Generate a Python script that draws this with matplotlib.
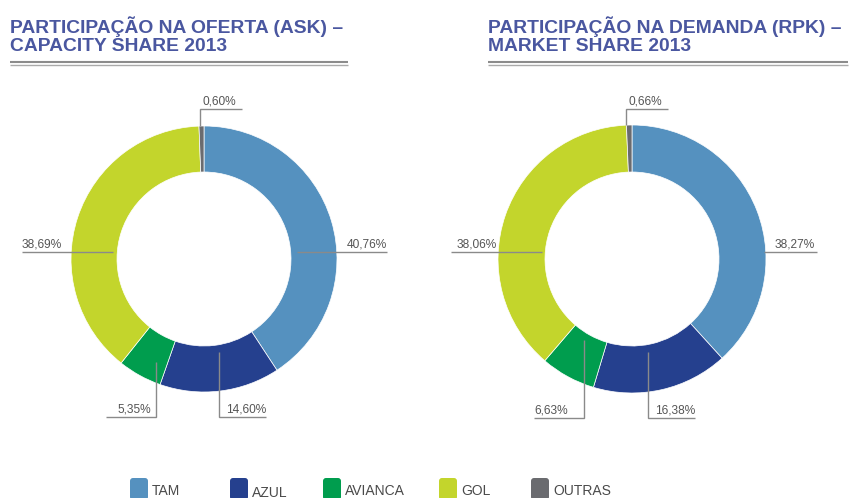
import matplotlib
matplotlib.use("Agg")
import matplotlib.pyplot as plt
from matplotlib.patches import FancyBboxPatch

# ---------------- data ----------------
categories = ["TAM", "AZUL", "AVIANCA", "GOL", "OUTRAS"]
ask_share = [40.76, 14.60, 5.35, 38.69, 0.60]
rpk_share = [38.27, 16.38, 6.63, 38.06, 0.66]
titles = ["PARTICIPAÇÃO NA OFERTA (ASK) –\nCAPACITY SHARE 2013",
          "PARTICIPAÇÃO NA DEMANDA (RPK) –\nMARKET SHARE 2013"]
colors = ["#5591bf", "#25408e", "#009d4e", "#c3d52c", "#6a6b6f"]

W, H = 850, 498
fig = plt.figure(figsize=(W / 100, H / 100), dpi=100)
ax = fig.add_axes([0, 0, 1, 1])


def fy(y):
    return H - y


def fmt(v):
    return f"{v:.2f}".replace(".", ",") + "%"


# ---------------- layout ----------------
charts = [
    dict(values=ask_share, cx=204, cy=259, R=133, r=87, title_x=10, line_x2=348,
         labels={
             # category: (path points (x,y) top-down, text x, text y(line), ha)
             "TAM": ([(297, 252), (387, 252)], 387, 252, "right"),
             "GOL": ([(113, 252), (22, 252)], 22, 252, "left"),
             "OUTRAS": ([(200, 126), (200, 109), (242, 109)], 203, 109, "left"),
             "AVIANCA": ([(156, 362), (156, 417), (106, 417)], 151, 417, "right"),
             "AZUL": ([(219, 352), (219, 417), (266, 417)], 266, 417, "right"),
         }),
    dict(values=rpk_share, cx=632, cy=259, R=134, r=87, title_x=488, line_x2=848,
         labels={
             "TAM": ([(764, 252), (817, 252)], 815, 252, "right"),
             "GOL": ([(542, 252), (451, 252)], 457, 252, "left"),
             "OUTRAS": ([(626, 125), (626, 109), (668, 109)], 629, 109, "left"),
             "AVIANCA": ([(584, 340), (584, 418), (534, 418)], 534, 418, "left"),
             "AZUL": ([(648, 352), (648, 418), (695, 418)], 695, 418, "right"),
         }),
]

title_color = "#4a57a0"
label_color = "#555555"
leader_color = "#8a8a8a"

for ch, title in zip(charts, titles):
    ax.pie(ch["values"], colors=colors, startangle=90, counterclock=False,
           center=(ch["cx"], fy(ch["cy"])), radius=ch["R"],
           wedgeprops=dict(width=ch["R"] - ch["r"], edgecolor="white", linewidth=0.5))
    # title
    ax.text(ch["title_x"], fy(16), title, ha="left", va="top",
            family="Liberation Sans", fontweight="bold", fontsize=13.9,
            color=title_color, linespacing=1.1)
    # double underline
    ax.plot([ch["title_x"], ch["line_x2"]], [fy(62), fy(62)], color="#8c8c8c",
            lw=1.5, solid_capstyle="butt")
    ax.plot([ch["title_x"], ch["line_x2"]], [fy(64.8), fy(64.8)], color="#aaaaaa",
            lw=1.0, solid_capstyle="butt")
    # labels
    for cat, v in zip(categories, ch["values"]):
        pts, tx, ty, ha = ch["labels"][cat]
        xs = [p[0] for p in pts]
        ys = [fy(p[1]) for p in pts]
        ax.plot(xs, ys, color=leader_color, lw=1.0, solid_capstyle="butt",
                solid_joinstyle="miter")
        ax.text(tx, fy(ty) + 1.5, fmt(v), ha=ha, va="bottom",
                family="Liberation Sans", fontsize=8.6, color=label_color)

# legend
legend_x = [130, 230, 323, 439, 531]
for cat, col, lx in zip(categories, colors, legend_x):
    box = FancyBboxPatch((lx, fy(500)), 18, 22, boxstyle="round,pad=0,rounding_size=3",
                         fc=col, ec="none")
    ax.add_patch(box)
    dy = 2 if cat == "AZUL" else 0
    ax.text(lx + 22, fy(490.5 + dy), cat, ha="left", va="center",
            family="Liberation Sans", fontsize=10, color="#4a4a4a")

ax.set_xlim(0, W)
ax.set_ylim(0, H)
ax.set_aspect("equal")
ax.axis("off")

fig.savefig("out.png", dpi=100)
